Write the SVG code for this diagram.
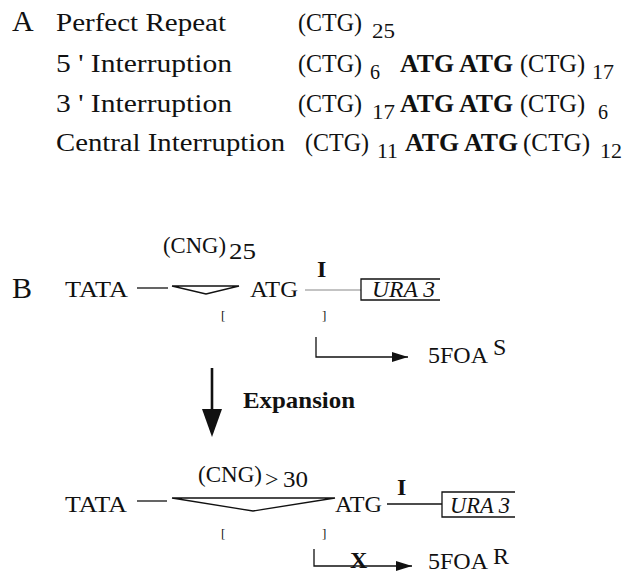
<svg xmlns="http://www.w3.org/2000/svg" width="625" height="574" viewBox="0 0 625 574">
<style>
text{font-family:"Liberation Serif","Times New Roman",serif;fill:#111}
.big{font-size:30px}
.lab{font-size:26px}
.ctg{font-size:25px}
.b{font-weight:bold}
.atg{font-size:25px;font-weight:bold}
.sub{font-size:20px}
.bt{font-size:24px}
.br{font-size:13px}
.it{font-style:italic;font-size:23px}
.ln{stroke:#111;stroke-width:1.3;fill:none}
.gr{stroke:#888;stroke-width:1.2;fill:none}
.ah{fill:#111}
</style>
<defs>
<marker id="head" viewBox="0 0 16 10" refX="16" refY="5" markerWidth="16" markerHeight="10" markerUnits="userSpaceOnUse" orient="auto">
<path d="M0,0 L16,5 L0,10 Z" class="ah"/>
</marker>
</defs>

<g id="panelA">
<text class="big" x="12" y="31">A</text>
<g id="rowPerfect">
<text class="lab" x="56" y="31" textLength="170" lengthAdjust="spacingAndGlyphs">Perfect Repeat</text>
<text class="ctg" x="298" y="31" textLength="64" lengthAdjust="spacingAndGlyphs">(CTG)</text>
<text class="sub" x="372" y="38" textLength="23" lengthAdjust="spacingAndGlyphs">25</text>
</g>
<g id="row5">
<text class="lab" x="56" y="72" textLength="176" lengthAdjust="spacingAndGlyphs">5 ' Interruption</text>
<text class="ctg" x="298" y="72" textLength="64" lengthAdjust="spacingAndGlyphs">(CTG)</text>
<text class="sub" x="370" y="79">6</text>
<text class="atg" x="400" y="72" textLength="113" lengthAdjust="spacingAndGlyphs">ATG ATG</text>
<text class="ctg" x="520" y="72" textLength="65" lengthAdjust="spacingAndGlyphs">(CTG)</text>
<text class="sub" x="592" y="79" textLength="22" lengthAdjust="spacingAndGlyphs">17</text>
</g>
<g id="row3">
<text class="lab" x="56" y="112" textLength="176" lengthAdjust="spacingAndGlyphs">3 ' Interruption</text>
<text class="ctg" x="298" y="112" textLength="64" lengthAdjust="spacingAndGlyphs">(CTG)</text>
<text class="sub" x="372" y="119" textLength="23" lengthAdjust="spacingAndGlyphs">17</text>
<text class="atg" x="400" y="112" textLength="113" lengthAdjust="spacingAndGlyphs">ATG ATG</text>
<text class="ctg" x="520" y="112" textLength="65" lengthAdjust="spacingAndGlyphs">(CTG)</text>
<text class="sub" x="598" y="119">6</text>
</g>
<g id="rowCentral">
<text class="lab" x="56" y="151" textLength="229" lengthAdjust="spacingAndGlyphs">Central Interruption</text>
<text class="ctg" x="305" y="151" textLength="64" lengthAdjust="spacingAndGlyphs">(CTG)</text>
<text class="sub" x="377" y="158" textLength="21" lengthAdjust="spacingAndGlyphs">11</text>
<text class="atg" x="405" y="151" textLength="113" lengthAdjust="spacingAndGlyphs">ATG ATG</text>
<text class="ctg" x="523" y="151" textLength="67" lengthAdjust="spacingAndGlyphs">(CTG)</text>
<text class="sub" x="600" y="158" textLength="22" lengthAdjust="spacingAndGlyphs">12</text>
</g>
</g>

<g id="panelB">
<text class="big" x="12" y="298">B</text>
<g id="constructTop">
<text class="bt" x="65" y="297" textLength="63" lengthAdjust="spacingAndGlyphs">TATA</text>
<text class="bt" x="163" y="253" textLength="63" lengthAdjust="spacingAndGlyphs">(CNG)</text>
<text class="bt" x="229" y="259" textLength="27" lengthAdjust="spacingAndGlyphs">25</text>
<text class="bt" x="250" y="297" textLength="48" lengthAdjust="spacingAndGlyphs">ATG</text>
<text class="bt b" x="317" y="277">I</text>
<text class="it" x="372" y="297" textLength="63" lengthAdjust="spacingAndGlyphs">URA 3</text>
<text class="br" x="221" y="320">[</text>
<text class="br" x="322" y="320">]</text>
</g>
<g id="expansion">
<text class="bt b" x="243" y="408" textLength="112" lengthAdjust="spacingAndGlyphs">Expansion</text>
</g>
<g id="constructBottom">
<text class="bt" x="65" y="512" textLength="62" lengthAdjust="spacingAndGlyphs">TATA</text>
<text class="bt" x="198" y="482" textLength="64" lengthAdjust="spacingAndGlyphs">(CNG)</text>
<text class="bt" x="265" y="487">&gt;</text>
<text class="bt" x="283" y="487" textLength="25" lengthAdjust="spacingAndGlyphs">30</text>
<text class="bt" x="335" y="512" textLength="47" lengthAdjust="spacingAndGlyphs">ATG</text>
<text class="bt b" x="397" y="495">I</text>
<text class="it" x="450" y="513" textLength="60" lengthAdjust="spacingAndGlyphs">URA 3</text>
<text class="br" x="221" y="538">[</text>
<text class="br" x="322" y="538">]</text>
</g>
<g id="resultS">
<text class="bt" x="428" y="363" textLength="60" lengthAdjust="spacingAndGlyphs">5FOA</text>
<text class="bt" x="493" y="355">S</text>
</g>
<g id="resultR">
<text class="bt" x="428" y="569" textLength="60" lengthAdjust="spacingAndGlyphs">5FOA</text>
<text class="bt" x="493" y="564">R</text>
</g>
</g>

<g id="connectors">
<line class="ln" x1="137" y1="288" x2="168" y2="288"/>
<polygon class="ln" points="172,286 239,286 206,294"/>
<line class="gr" x1="305" y1="290" x2="361" y2="290"/>
<polyline class="ln" points="440,279 361,279 361,300 440,300"/>
<polyline class="ln" points="316,337 316,357 408,357" stroke="#333" marker-end="url(#head)"/>
<line x1="212" y1="368" x2="212" y2="412" stroke="#111" stroke-width="2.6"/>
<polygon class="ah" points="202,409 222,409 212,437"/>
<line class="ln" x1="137" y1="501" x2="167" y2="501"/>
<polygon class="ln" points="172,498 335,498 253,511"/>
<line class="ln" x1="387" y1="504" x2="442" y2="504"/>
<polyline class="ln" points="515,492 442,492 442,517 515,517"/>
<polyline class="ln" points="314,549 314,566 412,566" marker-end="url(#head)"/>
<text class="bt b" x="350" y="568" font-size="23">X</text>
</g>
</svg>
